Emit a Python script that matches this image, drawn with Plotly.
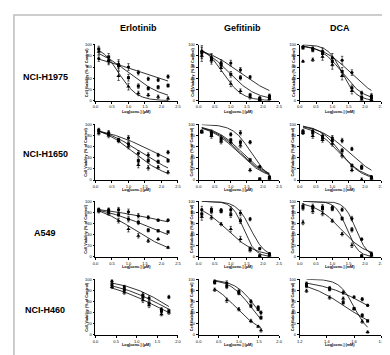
import numpy as np
import plotly.graph_objects as go

W, H = 390, 355

# ---------------- labels ----------------
drugs = ["Erlotinib", "Gefitinib", "DCA"]
cell_lines = ["NCI-H1975", "NCI-H1650", "A549", "NCI-H460"]
x_titles = ["Log[conc.] (μM)", "Log[conc.] (μM)", "Log[conc.] (mM)"]
y_title = "Cell Viability (% of Control)"
y_ticks = [0, 20, 40, 60, 80, 100]

# ---------------- x values (log concentration) ----------------
x_std = [0.1, 0.4, 0.7, 1.0, 1.3, 1.6, 1.9, 2.2]
x_erl_h460 = [0.4, 0.7, 1.15, 1.3, 1.6, 1.78]
x_gef_h460 = [0.4, 0.7, 1.0, 1.3, 1.48, 1.55]
x_dca_h460 = [1.25, 1.42, 1.52, 1.6, 1.66, 1.7]

# ---------------- series values (circle, square, triangle) ----------------
erl_h1975 = ([75, 72, 65, 60, 50, 39, 37, 43],
             [92, 78, 62, 41, 26, 22, 24, 27],
             [87, 70, 44, 25, 13, 10, 7, 4])
erl_h1975_err = [5, 6, 8, 6, 4, 3, 3, 3]
erl_h1975_ic50 = [1.42, 1.0, 0.7]
erl_h1975_hill = [0.344, 0.8, 1.59]

gef_h1975 = ([88, 77, 67, 67, 55, 42, 5, 9],
             [85, 75, 64, 47, 41, 10, 3, 6],
             [80, 72, 58, 30, 17, 6, 1, 3])
gef_h1975_err = [10, 7, 6, 5, 4, 3, 2, 3]
gef_h1975_ic50 = [1.29, 0.95, 0.75]
gef_h1975_hill = [0.725, 1.02, 1.47]

dca_h1975 = ([96, 93, 88, 76, 72, 50, 14, 9],
             [94, 90, 84, 70, 52, 23, 6, 5],
             [70, 73, 78, 64, 44, 17, 2, 1])
dca_h1975_err = [2, 3, 6, 8, 7, 5, 3, 4]
dca_h1975_ic50 = [1.55, 1.3, 1.3]
dca_h1975_hill = [1.0, 1.3, 2.0]

erl_h1650 = ([90, 85, 72, 76, 48, 45, 45, 50],
             [88, 83, 72, 65, 35, 35, 33, 35],
             [84, 80, 70, 60, 27, 22, 23, 14])
erl_h1650_err = [3, 4, 3, 4, 5, 4, 3, 3]
erl_h1650_ic50 = [1.79, 1.38, 1.15]
erl_h1650_hill = [0.513, 0.674, 0.824]

gef_h1650 = ([88, 86, 76, 82, 85, 68, 24, 6],
             [87, 82, 72, 72, 68, 36, 2, 4],
             [86, 79, 69, 68, 62, 18, 1, 3])
gef_h1650_err = [2, 4, 4, 3, 4, 3, 2, 2]
gef_h1650_ic50 = [1.62, 1.22, 1.28, 1.34]
gef_h1650_hill = [1.6, 1.0, 1.0, 1.0]

dca_h1650 = ([88, 88, 79, 76, 71, 56, 24, 6],
             [86, 85, 76, 71, 53, 26, 22, 4],
             [85, 79, 72, 65, 44, 18, 1, 3])
dca_h1650_err = [3, 4, 4, 4, 4, 3, 3, 2]
dca_h1650_ic50 = [1.5, 1.25, 1.2]
dca_h1650_hill = [0.95, 1.3, 1.1]

erl_a549 = ([85, 85, 85, 81, 74, 71, 66, 66],
            [84, 82, 76, 68, 62, 48, 47, 45],
            [82, 78, 65, 50, 38, 29, 32, 17])
erl_a549_err = [3, 3, 4, 5, 4, 3, 2, 2]
erl_a549_ic50 = [3.13, 1.79, 1.15]
erl_a549_hill = [0.249, 0.427, 0.656]

gef_a549 = ([85, 86, 84, 85, 79, 68, 15, 6],
            [77, 82, 82, 76, 65, 15, 2, 4],
            [72, 71, 59, 50, 32, 12, 1, 3])
gef_a549_err = [6, 4, 3, 5, 5, 3, 2, 2]
gef_a549_ic50 = [1.62, 1.4, 0.86]
gef_a549_hill = [2.0, 2.4, 0.95]

dca_a549 = ([92, 91, 90, 89, 85, 69, 32, 6],
            [88, 88, 87, 86, 69, 49, 2, 4],
            [62, 82, 78, 65, 41, 21, 1, 3])
dca_a549_err = [4, 4, 4, 3, 3, 4, 2, 3]
dca_a549_ic50 = [1.72, 1.45, 1.26]
dca_a549_hill = [2.5, 2.5, 1.1]

erl_h460 = ([96, 86, 72, 66, 46, 68],
            [90, 81, 68, 57, 43, 43],
            [86, 76, 62, 53, 37, 40])
erl_h460_err = [3, 3, 4, 4, 3, 3]
erl_h460_ic50 = [1.8, 1.68, 1.51]
erl_h460_hill = [0.8, 0.678, 0.65]

gef_h460 = ([96, 93, 78, 60, 50, 40],
            [94, 87, 75, 52, 46, 31],
            [81, 62, 46, 25, 15, 8])
gef_h460_err = [3, 4, 3, 3, 2, 3]
gef_h460_ic50 = [1.42, 1.3, 0.92]
gef_h460_hill = [1.65, 1.67, 1.3]

dca_h460 = ([92, 84, 76, 68, 64, 53],
            [88, 82, 58, 47, 35, 25],
            [79, 67, 65, 47, 24, 5])
dca_h460_err = [3, 3, 3, 2, 3, 2]
dca_h460_ic50 = [1.72, 1.54, 1.6]
dca_h460_hill = [2.38, 2.84, 8.0]

panels = [
    (0, 0, x_std, erl_h1975, erl_h1975_err, erl_h1975_ic50, erl_h1975_hill),
    (0, 1, x_std, gef_h1975, gef_h1975_err, gef_h1975_ic50, gef_h1975_hill),
    (0, 2, x_std, dca_h1975, dca_h1975_err, dca_h1975_ic50, dca_h1975_hill),
    (1, 0, x_std, erl_h1650, erl_h1650_err, erl_h1650_ic50, erl_h1650_hill),
    (1, 1, x_std, gef_h1650, gef_h1650_err, gef_h1650_ic50, gef_h1650_hill),
    (1, 2, x_std, dca_h1650, dca_h1650_err, dca_h1650_ic50, dca_h1650_hill),
    (2, 0, x_std, erl_a549, erl_a549_err, erl_a549_ic50, erl_a549_hill),
    (2, 1, x_std, gef_a549, gef_a549_err, gef_a549_ic50, gef_a549_hill),
    (2, 2, x_std, dca_a549, dca_a549_err, dca_a549_ic50, dca_a549_hill),
    (3, 0, x_erl_h460, erl_h460, erl_h460_err, erl_h460_ic50, erl_h460_hill),
    (3, 1, x_gef_h460, gef_h460, gef_h460_err, gef_h460_ic50, gef_h460_hill),
    (3, 2, x_dca_h460, dca_h460, dca_h460_err, dca_h460_ic50, dca_h460_hill),
]

# ---------------- layout geometry (pixels) ----------------
col_px = [(86, 170), (191, 273), (294, 377)]
row_px = [(34, 91), (115, 171.5), (193, 249.5), (272, 328.5)]
ytitle_px = [77, 184.5, 287.5]
xtitle_py = [102.5, 182, 260, 338.5]
rowlabel_py = [66.5, 145.5, 225, 303]
x_ranges = {(3, 0): ([0, 2.0], 0.5), (3, 1): ([0, 2.0], 0.5), (3, 2): ([1.2, 1.8], 0.2)}

symbols = ["circle", "square", "triangle-up"]
msizes = [3.2, 3.0, 3.8]
FONT = "Liberation Sans, Arial, sans-serif"

fig = go.Figure()
layout = dict(width=W, height=H, margin=dict(l=0, r=0, t=0, b=0),
              paper_bgcolor="white", plot_bgcolor="white", showlegend=False,
              font=dict(family=FONT, color="black"))
annotations = []

for (r, c, xs, series, err, ic50, hill) in panels:
    k = r * 3 + c + 1
    xa = "x" if k == 1 else f"x{k}"
    ya = "y" if k == 1 else f"y{k}"
    # fitted curves
    xc = np.linspace(xs[0], xs[-1], 150)
    for lc, hs in zip(ic50, hill):
        yc = 100.0 / (1.0 + 10 ** ((xc - lc) * hs))
        fig.add_trace(go.Scatter(x=xc, y=yc, mode="lines", xaxis=xa, yaxis=ya,
                                 line=dict(color="black", width=0.8),
                                 cliponaxis=False, hoverinfo="skip"))
    # data points
    for s, ys in enumerate(series):
        fig.add_trace(go.Scatter(
            x=xs, y=ys, mode="markers", xaxis=xa, yaxis=ya, cliponaxis=False,
            marker=dict(symbol=symbols[s], size=msizes[s], color="black", line=dict(width=0)),
            error_y=dict(type="data", array=err, color="black", thickness=0.6, width=1.2)))
    rng, dt = x_ranges.get((r, c), ([0, 2.5], 0.5))
    x0, x1 = col_px[c]
    y0, y1 = row_px[r]
    ax = dict(showline=True, linecolor="black", linewidth=0.8, ticks="outside",
              ticklen=2, tickwidth=0.8, tickcolor="black", showgrid=False,
              zeroline=False, tickfont=dict(size=4, family=FONT, color="black"))
    layout["xaxis" if k == 1 else f"xaxis{k}"] = dict(
        ax, domain=[x0 / W, x1 / W], anchor=ya, range=rng, tick0=rng[0], dtick=dt,
        tickformat=".1f")
    layout["yaxis" if k == 1 else f"yaxis{k}"] = dict(
        ax, domain=[1 - y1 / H, 1 - y0 / H], anchor=xa, range=[0, 100],
        tickvals=y_ticks, ticktext=[str(v) for v in y_ticks])
    # axis titles
    annotations.append(dict(x=ytitle_px[c] / W, y=1 - (y0 + y1) / 2 / H, xref="paper", yref="paper",
                            text=f"<b>{y_title}</b>", textangle=-90, showarrow=False,
                            font=dict(size=3.8, family=FONT, color="black"),
                            xanchor="center", yanchor="middle"))
    annotations.append(dict(x=(x0 + x1) / 2 / W, y=1 - xtitle_py[r] / H, xref="paper", yref="paper",
                            text=f"<b>{x_titles[c]}</b>", showarrow=False,
                            font=dict(size=3.8, family=FONT, color="black"),
                            xanchor="center", yanchor="middle"))

# column titles
for c, name in enumerate(drugs):
    cx = [130, 236, 335][c]
    annotations.append(dict(x=cx / W, y=1 - 17.7 / H, xref="paper", yref="paper",
                            text=f"<b>{name}</b>", showarrow=False,
                            font=dict(size=9, family=FONT, color="black"),
                            xanchor="center", yanchor="middle"))
# row labels
for r, name in enumerate(cell_lines):
    annotations.append(dict(x=35 / W, y=1 - rowlabel_py[r] / H, xref="paper", yref="paper",
                            text=f"<b>{name}</b>", showarrow=False,
                            font=dict(size=9, family=FONT, color="black"),
                            xanchor="center", yanchor="middle"))

layout["annotations"] = annotations
layout["shapes"] = [dict(type="rect", xref="paper", yref="paper",
                         x0=3 / W, x1=387 / W, y0=1 - 351 / H, y1=1 - 4 / H,
                         line=dict(color="#bdbdbd", width=1.5))]
fig.update_layout(**layout)
fig.write_html("out.html")
